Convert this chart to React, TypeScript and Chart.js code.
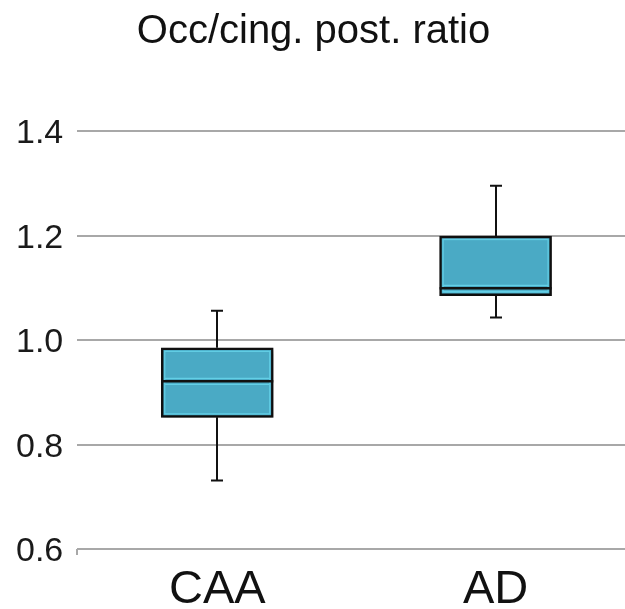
import React, { useEffect, useRef } from 'react';
import { Chart, registerables } from 'chart.js';

Chart.register(...registerables);

// ---- data ----
const titleText = 'Occ/cing. post. ratio';
const categories = ['CAA', 'AD'];
const catPositions = [0, 1];
const whiskerLow = [0.731, 1.043];
const q1 = [0.852, 1.085];
const median = [0.921, 1.099];
const q3 = [0.985, 1.199];
const whiskerHigh = [1.056, 1.295];
const yTickValues = [0.6, 0.8, 1.0, 1.2, 1.4];

// ---- style ----
const FONT = '"Liberation Sans", Arial, Helvetica, sans-serif';
const BOX_FILL = '#4aaac5';
const BOX_HIGHLIGHT = '#63cfe6';
const LINE = '#111111';
const GRID = '#a8a8a8';
const X_MIN = -0.503;
const X_MAX = 1.465;

const boxPlotPlugin = {
  id: 'boxPlotParts',
  beforeDatasetsDraw(chart: any) {
    const { ctx, scales } = chart;
    const xs = scales.x;
    const ys = scales.y;
    ctx.save();
    ctx.strokeStyle = LINE;
    ctx.lineWidth = 2;
    catPositions.forEach((p, i) => {
      const x = Math.round(xs.getPixelForValue(p));
      const yHi = ys.getPixelForValue(whiskerHigh[i]);
      const yQ3 = ys.getPixelForValue(q3[i]);
      const yQ1 = ys.getPixelForValue(q1[i]);
      const yLo = ys.getPixelForValue(whiskerLow[i]);
      ctx.beginPath();
      ctx.moveTo(x, yHi);
      ctx.lineTo(x, yQ3);
      ctx.moveTo(x, yQ1);
      ctx.lineTo(x, yLo);
      ctx.moveTo(x - 6, yHi);
      ctx.lineTo(x + 6, yHi);
      ctx.moveTo(x - 6, yLo);
      ctx.lineTo(x + 6, yLo);
      ctx.stroke();
    });
    ctx.restore();
  },
  beforeDatasetDraw(chart: any) {
    const ctx = chart.ctx;
    ctx.save();
    ctx.shadowColor = 'rgba(0,0,0,0.35)';
    ctx.shadowBlur = 5;
    ctx.shadowOffsetX = 1;
    ctx.shadowOffsetY = 3;
  },
  afterDatasetDraw(chart: any, args: any) {
    const ctx = chart.ctx;
    ctx.restore();
    const ys = chart.scales.y;
    const meta = args.meta;
    ctx.save();
    meta.data.forEach((bar: any, i: number) => {
      const left = bar.x - bar.width / 2;
      const right = bar.x + bar.width / 2;
      const top = Math.min(bar.y, bar.base);
      const bottom = Math.max(bar.y, bar.base);
      // inner highlight
      ctx.strokeStyle = BOX_HIGHLIGHT;
      ctx.lineWidth = 1.2;
      ctx.strokeRect(left + 3.5, top + 3.5, right - left - 7, bottom - top - 7);
      // median
      const ym = ys.getPixelForValue(median[i]);
      ctx.beginPath();
      ctx.moveTo(left + 3.5, ym - 3);
      ctx.lineTo(right - 3.5, ym - 3);
      ctx.moveTo(left + 3.5, ym + 3);
      ctx.lineTo(right - 3.5, ym + 3);
      ctx.stroke();
      ctx.strokeStyle = LINE;
      ctx.lineWidth = 2.5;
      ctx.beginPath();
      ctx.moveTo(left, ym);
      ctx.lineTo(right, ym);
      ctx.stroke();
    });
    ctx.restore();
  },
};

export default function App() {
  const canvasRef = useRef<HTMLCanvasElement | null>(null);

  useEffect(() => {
    document.body.style.margin = '0';
    const canvas = canvasRef.current;
    if (!canvas) return;
    Chart.defaults.font.family = FONT;

    const chart = new Chart(canvas, {
      type: 'bar',
      data: {
        datasets: [
          {
            label: titleText,
            data: catPositions.map((p, i) => ({ x: p, y: [q1[i], q3[i]] })) as any,
            backgroundColor: BOX_FILL,
            borderColor: LINE,
            borderWidth: 2.5,
            borderSkipped: false,
            barThickness: 112,
          },
        ],
      },
      options: {
        responsive: false,
        animation: false,
        layout: { padding: { left: 2, right: 0, top: 0, bottom: -16 } },
        plugins: {
          legend: { display: false },
          tooltip: { enabled: false },
          title: {
            display: true,
            text: titleText,
            color: '#111111',
            font: { size: 40, weight: 'normal', family: FONT },
            padding: { top: 8, bottom: 75 },
          },
        },
        scales: {
          x: {
            type: 'linear',
            min: X_MIN,
            max: X_MAX,
            offset: false,
            afterBuildTicks: (scale: any) => {
              scale.ticks = [{ value: X_MIN }, ...catPositions.map((v) => ({ value: v }))];
            },
            grid: {
              offset: false,
              drawOnChartArea: false,
              drawTicks: true,
              tickLength: 6,
              lineWidth: 2,
              color: (c: any) => (c.index === 0 ? GRID : 'rgba(0,0,0,0)'),
            },
            border: { display: false },
            ticks: {
              autoSkip: false,
              maxRotation: 0,
              padding: 15,
              color: '#111111',
              font: { size: 47, family: FONT, lineHeight: 0.85 },
              callback: (value: any) => {
                const i = catPositions.indexOf(Number(value));
                return i >= 0 ? categories[i] : '';
              },
            },
          },
          y: {
            type: 'linear',
            min: yTickValues[0],
            max: yTickValues[yTickValues.length - 1],
            afterBuildTicks: (scale: any) => {
              scale.ticks = yTickValues.map((v) => ({ value: v }));
            },
            grid: {
              color: GRID,
              lineWidth: 2,
              drawTicks: false,
            },
            border: { display: false },
            ticks: {
              padding: 14,
              labelOffset: 3,
              color: '#1a1a1a',
              font: { size: 34, family: FONT },
              callback: (value: any) => Number(value).toFixed(1),
            },
          },
        },
      },
      plugins: [boxPlotPlugin],
    });

    return () => chart.destroy();
  }, []);

  return (
    <div style={{ width: 625, height: 609, background: '#ffffff' }}>
      <canvas ref={canvasRef} width={625} height={609} style={{ display: 'block' }} />
    </div>
  );
}
